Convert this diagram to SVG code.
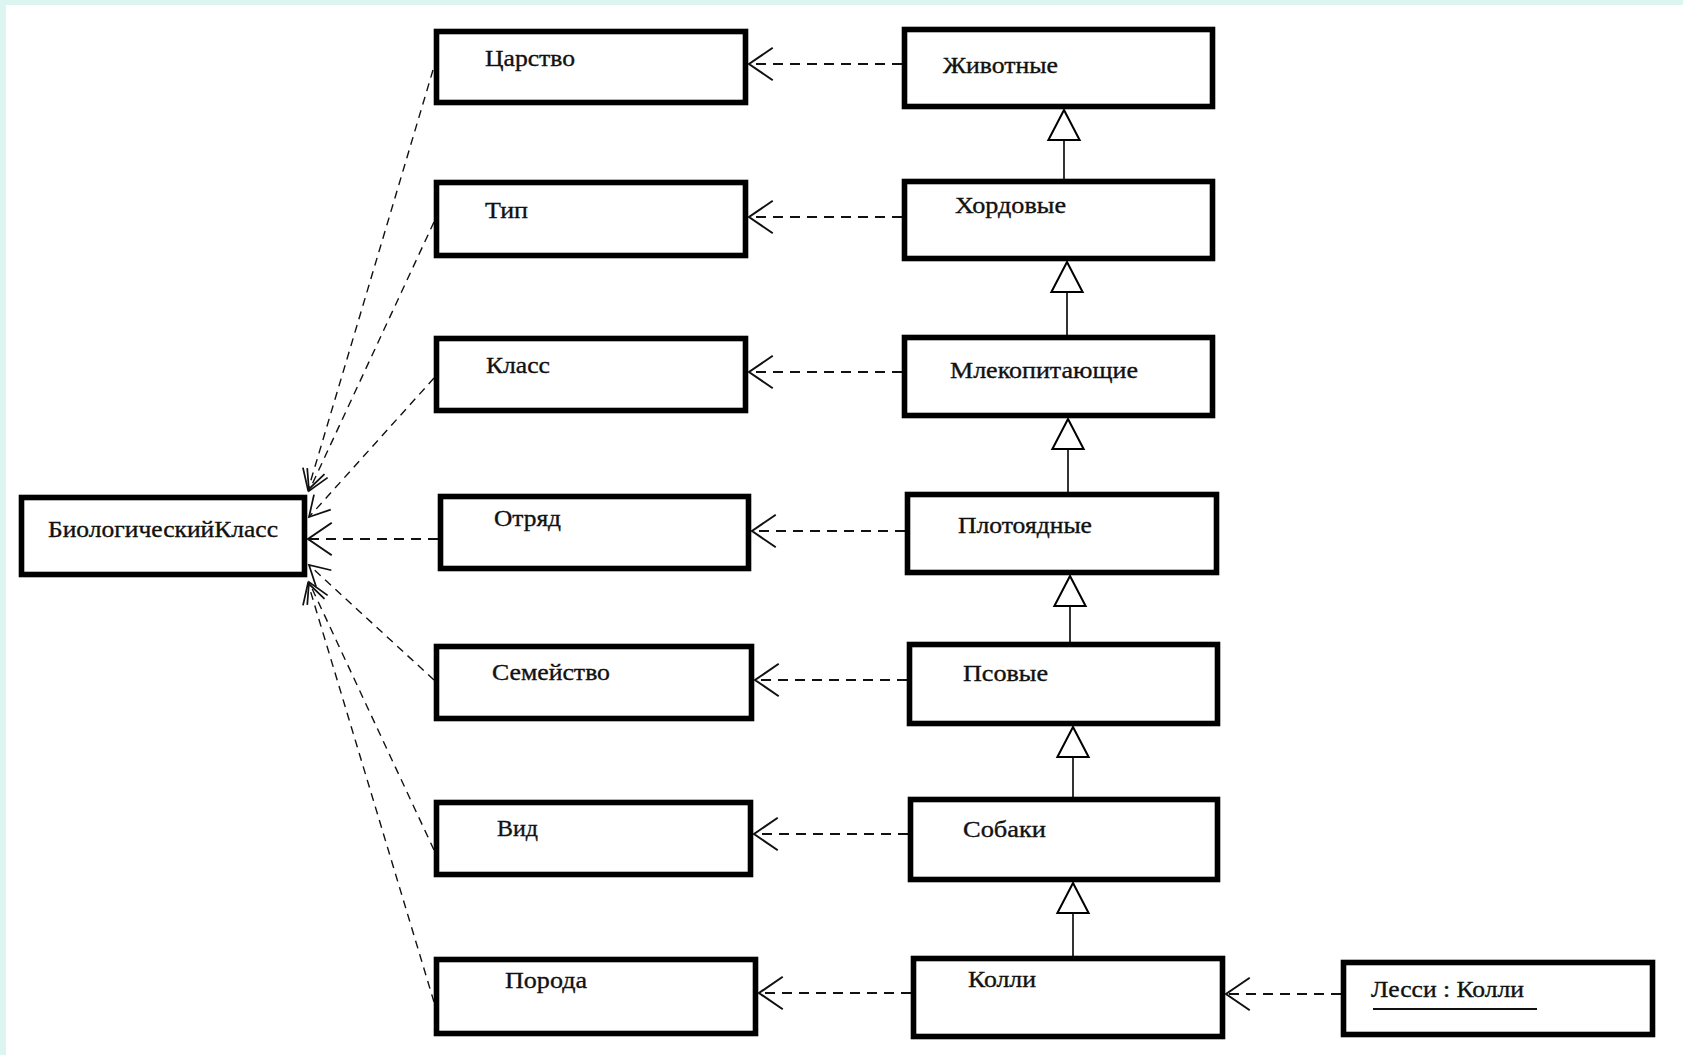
<svg xmlns="http://www.w3.org/2000/svg" width="1683" height="1055" viewBox="0 0 1683 1055">
<style>
.box{fill:#fff;stroke:#000;stroke-width:5.6}
.t{font-family:"Liberation Serif","Times New Roman",serif;font-size:23px;fill:#111;stroke:#111;stroke-width:0.35}
.dep{fill:none;stroke:#111;stroke-width:2;stroke-dasharray:10 7;marker-end:url(#open)}
.dep2{fill:none;stroke:#111;stroke-width:1.4;stroke-dasharray:8 6;marker-end:url(#open2)}
.gen{fill:none;stroke:#000;stroke-width:1.6;marker-end:url(#tri)}
</style>
<defs>
<marker id="open" markerUnits="userSpaceOnUse" markerWidth="40" markerHeight="40" viewBox="-22 -16 24 32" refX="0" refY="0" orient="auto" overflow="visible">
<path d="M-19,-13 L0,0 L-19,13" fill="none" stroke="#111" stroke-width="1.6"/>
</marker>
<marker id="open2" markerUnits="userSpaceOnUse" markerWidth="40" markerHeight="40" viewBox="-22 -16 24 32" refX="0" refY="0" orient="auto" overflow="visible">
<path d="M-16,-9 L0,0 L-16,9" fill="none" stroke="#111" stroke-width="1.4"/>
</marker>
<marker id="tri" markerUnits="userSpaceOnUse" markerWidth="40" markerHeight="40" viewBox="-30 -16 32 32" refX="0" refY="0" orient="auto" overflow="visible">
<path d="M0,0 L-24,-12.5 L-24,12.5 Z" fill="#fff" stroke="#000" stroke-width="1.6"/>
</marker>
</defs>
<rect x="0" y="0" width="1683" height="1055" fill="#fff"/>
<rect x="0" y="0" width="1683" height="5" fill="#dcf5f1"/>
<rect x="0" y="0" width="6" height="1055" fill="#dcf5f1"/>

<g id="connectors">
<path class="dep" d="M902,64 L749,64"/>
<path class="dep" d="M902,217 L749,217"/>
<path class="dep" d="M902,372 L749,372"/>
<path class="dep" d="M905,531 L752,531"/>
<path class="dep" d="M907,680 L755,680"/>
<path class="dep" d="M908,834 L754,834"/>
<path class="dep" d="M911,993 L759,993"/>
<path class="dep" d="M1341,994 L1226,994"/>
<path class="dep2" d="M433,70 L308,490"/>
<path class="dep2" d="M434,222 L309,491"/>
<path class="dep2" d="M434,378 L309,517"/>
<path class="dep" d="M438,539 L308,539"/>
<path class="dep2" d="M434,680 L309,565"/>
<path class="dep2" d="M434,850 L309,582"/>
<path class="dep2" d="M434,1002 L308,583"/>
<path class="gen" d="M1064,179 L1064,110"/>
<path class="gen" d="M1067,335 L1067,262"/>
<path class="gen" d="M1068,492 L1068,419"/>
<path class="gen" d="M1070,642 L1070,576"/>
<path class="gen" d="M1073,797 L1073,727"/>
<path class="gen" d="M1073,956 L1073,883"/>
</g>

<g id="n-tsarstvo"><rect class="box" x="436.5" y="31.5" width="309" height="71"/><text class="t" x="485" y="66" textLength="90" lengthAdjust="spacingAndGlyphs">Царство</text></g>
<g id="n-tip"><rect class="box" x="436.5" y="182.5" width="309" height="73"/><text class="t" x="485" y="218" textLength="43" lengthAdjust="spacingAndGlyphs">Тип</text></g>
<g id="n-klass"><rect class="box" x="436.5" y="338.5" width="309" height="72"/><text class="t" x="486" y="373" textLength="64" lengthAdjust="spacingAndGlyphs">Класс</text></g>
<g id="n-otryad"><rect class="box" x="440.5" y="496.5" width="308" height="72"/><text class="t" x="494" y="526" textLength="67" lengthAdjust="spacingAndGlyphs">Отряд</text></g>
<g id="n-semeystvo"><rect class="box" x="436.5" y="646.5" width="315" height="72"/><text class="t" x="492" y="680" textLength="118" lengthAdjust="spacingAndGlyphs">Семейство</text></g>
<g id="n-vid"><rect class="box" x="436.5" y="802.5" width="314" height="72"/><text class="t" x="497" y="836" textLength="41" lengthAdjust="spacingAndGlyphs">Вид</text></g>
<g id="n-poroda"><rect class="box" x="436.5" y="959.5" width="319" height="74"/><text class="t" x="505" y="988" textLength="82" lengthAdjust="spacingAndGlyphs">Порода</text></g>

<g id="n-zhivotnye"><rect class="box" x="904.5" y="29.5" width="308" height="77"/><text class="t" x="943" y="73" textLength="115" lengthAdjust="spacingAndGlyphs">Животные</text></g>
<g id="n-hordovye"><rect class="box" x="904.5" y="181.5" width="308" height="77"/><text class="t" x="955" y="213" textLength="111" lengthAdjust="spacingAndGlyphs">Хордовые</text></g>
<g id="n-mlekopitayushchie"><rect class="box" x="904.5" y="337.5" width="308" height="78"/><text class="t" x="950" y="378" textLength="188" lengthAdjust="spacingAndGlyphs">Млекопитающие</text></g>
<g id="n-plotoyadnye"><rect class="box" x="907.5" y="494.5" width="309" height="78"/><text class="t" x="958" y="533" textLength="134" lengthAdjust="spacingAndGlyphs">Плотоядные</text></g>
<g id="n-psovye"><rect class="box" x="909.5" y="644.5" width="308" height="79"/><text class="t" x="963" y="681" textLength="85" lengthAdjust="spacingAndGlyphs">Псовые</text></g>
<g id="n-sobaki"><rect class="box" x="910.5" y="799.5" width="307" height="80"/><text class="t" x="963" y="837" textLength="83" lengthAdjust="spacingAndGlyphs">Собаки</text></g>
<g id="n-kolli"><rect class="box" x="913.5" y="958.5" width="309" height="78"/><text class="t" x="968" y="987" textLength="68" lengthAdjust="spacingAndGlyphs">Колли</text></g>
<g id="n-lessi"><rect class="box" x="1343.5" y="962.5" width="309" height="72"/><text class="t" x="1371" y="997" textLength="153" lengthAdjust="spacingAndGlyphs">Лесси : Колли</text><line x1="1373" y1="1009" x2="1537" y2="1009" stroke="#111" stroke-width="2"/></g>

<g id="n-bio"><rect class="box" x="21.5" y="497.5" width="283" height="77"/><text class="t" x="48" y="537" textLength="230" lengthAdjust="spacingAndGlyphs">БиологическийКласс</text></g>
</svg>
